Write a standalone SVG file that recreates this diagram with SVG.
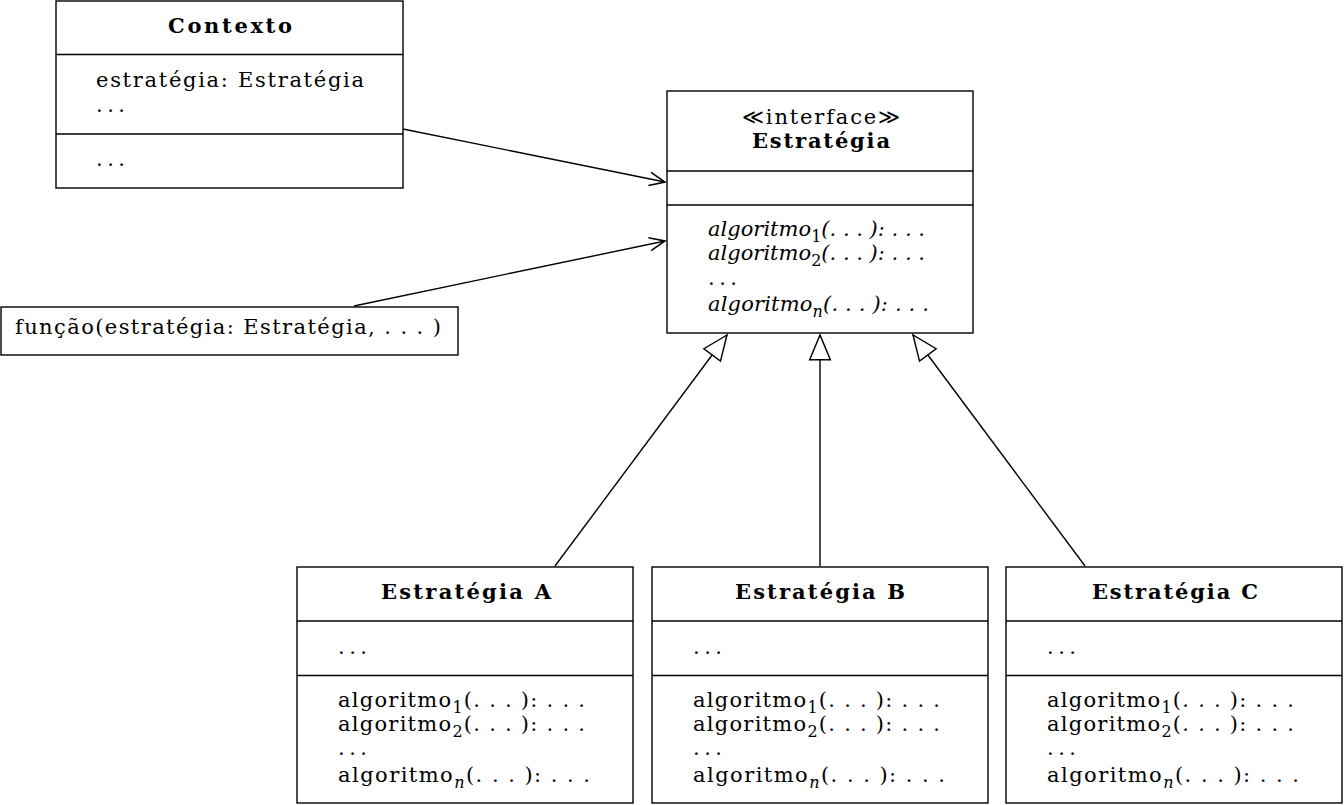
<svg xmlns="http://www.w3.org/2000/svg" width="1344" height="805" viewBox="0 0 1344 805">
<style>
.box{fill:#fff;stroke:#000;stroke-width:1.4}
.div{stroke:#000;stroke-width:1.4}
text{font-family:"DejaVu Serif","Liberation Serif",serif;font-size:21px;fill:#000}
.b{font-weight:bold}
.c{text-anchor:middle}
.i{font-style:italic}
.sub{font-size:16px;font-style:normal}
.si{font-size:16px;font-style:italic}
.edge{stroke:#000;stroke-width:1.4;fill:none}
</style>
<defs>
<marker id="open" markerUnits="userSpaceOnUse" markerWidth="20" markerHeight="20" viewBox="-16 -8 18 16" refX="0" refY="0" orient="auto">
<path d="M-14,-6 L0,0 L-14,6" fill="none" stroke="#000" stroke-width="1.4"/>
</marker>
<marker id="tri" markerUnits="userSpaceOnUse" markerWidth="30" markerHeight="30" viewBox="-27 -12 29 24" refX="0" refY="0" orient="auto">
<path d="M0,0 L-24,-10 L-24,10 Z" fill="#fff" stroke="#000" stroke-width="1.4"/>
</marker>
</defs>

<g id="connectors">
<line class="edge" x1="403" y1="129" x2="665" y2="182" marker-end="url(#open)"/>
<line class="edge" x1="354" y1="306" x2="665" y2="241" marker-end="url(#open)"/>
<line class="edge" x1="555" y1="566" x2="727" y2="335" marker-end="url(#tri)"/>
<line class="edge" x1="820" y1="566" x2="820" y2="335" marker-end="url(#tri)"/>
<line class="edge" x1="1085" y1="566" x2="913" y2="335" marker-end="url(#tri)"/>
</g>

<g id="contexto">
<rect class="box" x="56" y="1" width="347" height="187"/>
<line class="div" x1="56" y1="54.5" x2="403" y2="54.5"/>
<line class="div" x1="56" y1="134" x2="403" y2="134"/>
<text class="b c" x="230" y="33" textLength="124" lengthAdjust="spacing">Contexto</text>
<text x="96" y="87" textLength="268" lengthAdjust="spacing">estratégia: Estratégia</text>
<text x="96" y="112" textLength="29" lengthAdjust="spacing">. . .</text>
<text x="96" y="166" textLength="29" lengthAdjust="spacing">. . .</text>
</g>

<g id="funcao">
<rect class="box" x="1" y="307" width="457" height="48"/>
<text x="15" y="334" textLength="426" lengthAdjust="spacing">função(estratégia: Estratégia, . . . )</text>
</g>

<g id="estrategia">
<rect class="box" x="667" y="91" width="306" height="242"/>
<line class="div" x1="667" y1="171" x2="973" y2="171"/>
<line class="div" x1="667" y1="205" x2="973" y2="205"/>
<text class="c" x="821" y="124" textLength="158" lengthAdjust="spacing">≪interface≫</text>
<text class="b c" x="821" y="148" textLength="138" lengthAdjust="spacing">Estratégia</text>
<text class="i" x="708" y="236" textLength="217" lengthAdjust="spacing">algoritmo<tspan class="sub" dy="6">1</tspan><tspan dy="-6">(. . . ): . . .</tspan></text>
<text class="i" x="708" y="260" textLength="217" lengthAdjust="spacing">algoritmo<tspan class="sub" dy="6">2</tspan><tspan dy="-6">(. . . ): . . .</tspan></text>
<text x="708" y="285" textLength="29" lengthAdjust="spacing">. . .</text>
<text class="i" x="708" y="311" textLength="221" lengthAdjust="spacing">algoritmo<tspan class="si" dy="6">n</tspan><tspan dy="-6">(. . . ): . . .</tspan></text>
</g>

<g id="estrategiaA">
<rect class="box" x="297" y="567" width="336" height="236"/>
<line class="div" x1="297" y1="621" x2="633" y2="621"/>
<line class="div" x1="297" y1="675.5" x2="633" y2="675.5"/>
<text class="b c" x="466" y="599" textLength="170" lengthAdjust="spacing">Estratégia A</text>
<text x="338" y="654" textLength="29" lengthAdjust="spacing">. . .</text>
<text x="338" y="707" textLength="247" lengthAdjust="spacing">algoritmo<tspan class="sub" dy="6">1</tspan><tspan dy="-6">(. . . ): . . .</tspan></text>
<text x="338" y="731" textLength="247" lengthAdjust="spacing">algoritmo<tspan class="sub" dy="6">2</tspan><tspan dy="-6">(. . . ): . . .</tspan></text>
<text x="338" y="755" textLength="29" lengthAdjust="spacing">. . .</text>
<text x="338" y="782" textLength="252" lengthAdjust="spacing">algoritmo<tspan class="si" dy="6">n</tspan><tspan dy="-6">(. . . ): . . .</tspan></text>
</g>

<g id="estrategiaB">
<rect class="box" x="652" y="567" width="336" height="236"/>
<line class="div" x1="652" y1="621" x2="988" y2="621"/>
<line class="div" x1="652" y1="675.5" x2="988" y2="675.5"/>
<text class="b c" x="820" y="599" textLength="170" lengthAdjust="spacing">Estratégia B</text>
<text x="693" y="654" textLength="29" lengthAdjust="spacing">. . .</text>
<text x="693" y="707" textLength="247" lengthAdjust="spacing">algoritmo<tspan class="sub" dy="6">1</tspan><tspan dy="-6">(. . . ): . . .</tspan></text>
<text x="693" y="731" textLength="247" lengthAdjust="spacing">algoritmo<tspan class="sub" dy="6">2</tspan><tspan dy="-6">(. . . ): . . .</tspan></text>
<text x="693" y="755" textLength="29" lengthAdjust="spacing">. . .</text>
<text x="693" y="782" textLength="252" lengthAdjust="spacing">algoritmo<tspan class="si" dy="6">n</tspan><tspan dy="-6">(. . . ): . . .</tspan></text>
</g>

<g id="estrategiaC">
<rect class="box" x="1006" y="567" width="336" height="236"/>
<line class="div" x1="1006" y1="621" x2="1342" y2="621"/>
<line class="div" x1="1006" y1="675.5" x2="1342" y2="675.5"/>
<text class="b c" x="1175" y="599" textLength="166" lengthAdjust="spacing">Estratégia C</text>
<text x="1047" y="654" textLength="29" lengthAdjust="spacing">. . .</text>
<text x="1047" y="707" textLength="247" lengthAdjust="spacing">algoritmo<tspan class="sub" dy="6">1</tspan><tspan dy="-6">(. . . ): . . .</tspan></text>
<text x="1047" y="731" textLength="247" lengthAdjust="spacing">algoritmo<tspan class="sub" dy="6">2</tspan><tspan dy="-6">(. . . ): . . .</tspan></text>
<text x="1047" y="755" textLength="29" lengthAdjust="spacing">. . .</text>
<text x="1047" y="782" textLength="252" lengthAdjust="spacing">algoritmo<tspan class="si" dy="6">n</tspan><tspan dy="-6">(. . . ): . . .</tspan></text>
</g>
</svg>
